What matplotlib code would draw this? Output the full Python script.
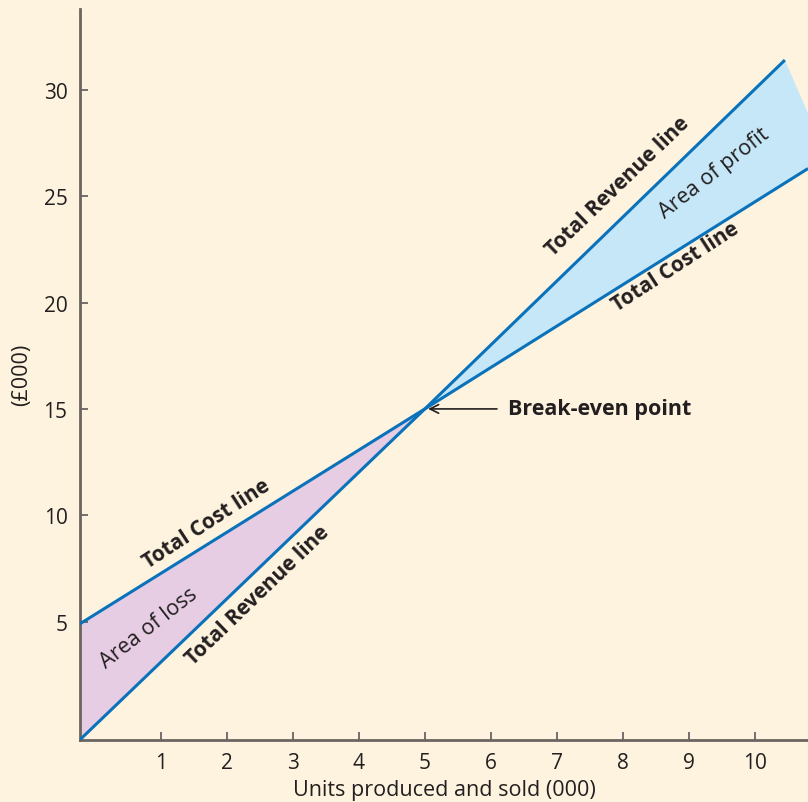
import matplotlib
matplotlib.use('Agg')
import matplotlib.pyplot as plt

# lines (units in 000, money in £000)
revenue_x = [-0.22, 5, 10.45]
revenue_y = [-0.55, 15, 31.4]
cost_x = [-0.22, 5, 10.8]
cost_y = [4.9, 15, 26.3]
break_even = (5, 15)

x_ticks = [1, 2, 3, 4, 5, 6, 7, 8, 9, 10]
y_ticks = [5, 10, 15, 20, 25, 30]

bg = '#FEF3DE'
blue = '#0A72BA'
dark = '#231F20'

plt.rcParams['font.family'] = ['Open Sans', 'DejaVu Sans']

fig = plt.figure(figsize=(8.08, 8.03), dpi=100, facecolor=bg)
ax = fig.add_axes([80 / 808, (803 - 740.7) / 803, (808 - 80) / 808, (740.7 - 10) / 803])
ax.set_facecolor(bg)

# loss area
ax.fill([cost_x[0], break_even[0], revenue_x[0]],
        [cost_y[0], break_even[1], revenue_y[0]],
        color='#E6CDE4', lw=0, zorder=1)
# profit area (spills past the revenue line end, as in the original)
ax.fill([break_even[0], revenue_x[2], 10.8, cost_x[2]],
        [break_even[1], revenue_y[2], 28.9, cost_y[2]],
        color='#C6E7F7', lw=0, zorder=1)

ax.plot(revenue_x, revenue_y, color=blue, lw=2.2, zorder=3, solid_capstyle='butt')
ax.plot(cost_x, cost_y, color=blue, lw=2.2, zorder=3, solid_capstyle='butt')

ax.set_xlim(-0.22, 10.8)
ax.set_ylim(-0.55, 33.8)

for s in ['top', 'right']:
    ax.spines[s].set_visible(False)
for s in ['left', 'bottom']:
    ax.spines[s].set_color('#6B6461')
    ax.spines[s].set_linewidth(2)

ax.set_xticks(x_ticks)
ax.set_yticks(y_ticks)
ax.tick_params(direction='in', length=6, width=1.3, color='#6B6461',
               labelsize=15, labelcolor=dark, pad=9)
ax.set_xlabel('Units produced and sold (000)', fontsize=15.5, color=dark, labelpad=4)
ax.set_ylabel('(£000)', fontsize=15.5, color=dark)
ax.yaxis.set_label_coords(-0.066, 0.5)

lab = dict(ha='center', va='center', rotation_mode='anchor', color=dark, zorder=4)
ax.text(7.92, 25.5, 'Total Revenue line', fontsize=15, fontweight='bold', rotation=44, **lab)
ax.text(2.47, 6.25, 'Total Revenue line', fontsize=15, fontweight='bold', rotation=44, **lab)
ax.text(8.8, 21.7, 'Total Cost line', fontsize=15, fontweight='bold', rotation=33, **lab)
ax.text(1.7, 9.6, 'Total Cost line', fontsize=15, fontweight='bold', rotation=33, **lab)
ax.text(9.38, 26.1, 'Area of profit', fontsize=15.5, rotation=38, **lab)
ax.text(0.82, 4.7, 'Area of loss', fontsize=15.5, rotation=38, **lab)

ax.annotate('Break-even point', xy=(5.05, 15), xytext=(6.26, 15),
            fontsize=15.5, fontweight='bold', color=dark, ha='left', va='center',
            arrowprops=dict(arrowstyle='->', color=dark, lw=1.2, shrinkA=6, shrinkB=0))

fig.savefig('out.png', dpi=100, facecolor=bg)
